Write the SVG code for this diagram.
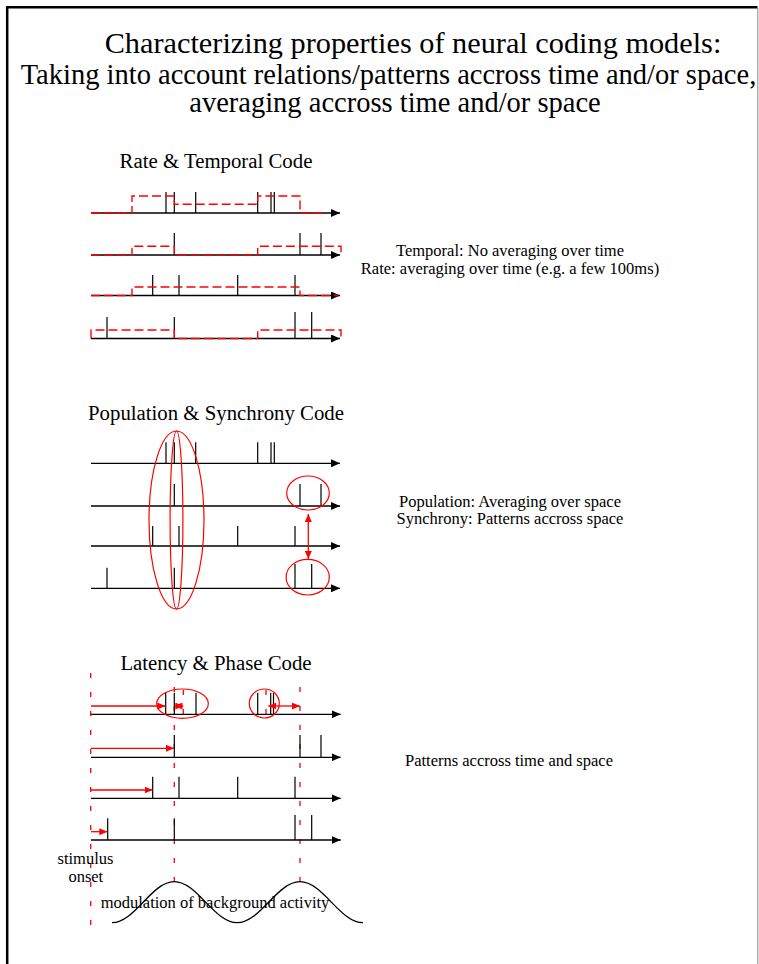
<svg xmlns="http://www.w3.org/2000/svg" width="759" height="964" viewBox="0 0 759 964">
<style>
text{font-family:"Liberation Serif","Times New Roman","DejaVu Serif",serif;fill:#000}
.t{font-size:28.5px;text-anchor:middle}
.h{font-size:20.8px;text-anchor:middle}
.s{font-size:16.5px;text-anchor:middle}
.ax{stroke:#000;stroke-width:1.3;fill:none;marker-end:url(#ah)}
.sp{stroke:#000;stroke-width:1.2;fill:none}
.rate{stroke:#f00;stroke-width:1.4;fill:none;stroke-dasharray:9 4}
.ell{stroke:#f00;stroke-width:1.2;fill:none}
.ra{stroke:#f00;stroke-width:1.3;fill:none;marker-end:url(#rh)}
.rd{stroke:#f00;stroke-width:1.3;fill:none;marker-end:url(#rh);marker-start:url(#rh)}
.vd{stroke:#f00;stroke-width:1.3;fill:none;stroke-dasharray:5 14}
</style>
<defs>
<marker id="ah" markerUnits="userSpaceOnUse" markerWidth="10" markerHeight="8" refX="9" refY="4" orient="auto"><path d="M0,0 L9,4 L0,8 z" fill="#000"/></marker>
<marker id="rh" markerUnits="userSpaceOnUse" markerWidth="9" markerHeight="7" refX="8" refY="3.5" orient="auto-start-reverse"><path d="M0,0 L8,3.5 L0,7 z" fill="#f00"/></marker>
</defs>
<rect width="759" height="964" fill="#fff"/>
<g id="frame">
<path d="M7.2,964 V7.2 H757.5" fill="none" stroke="#000" stroke-width="2.5"/>
<path d="M757.8,8 V964" fill="none" stroke="#888" stroke-width="1"/>
</g>
<g id="title">
<text class="t" x="413" y="53" style="font-size:30.3px">Characterizing properties of neural coding models:</text>
<text class="t" x="388.5" y="84">Taking into account relations/patterns accross time and/or space,</text>
<text class="t" x="395" y="112">averaging accross time and/or space</text>
</g>

<g id="rate-temporal">
<text class="h" x="216" y="168">Rate &amp; Temporal Code</text>
<g id="rt-axes">
<line class="ax" x1="91" y1="213" x2="340" y2="213"/>
<line class="ax" x1="91" y1="255" x2="340" y2="255"/>
<line class="ax" x1="91" y1="295.5" x2="340" y2="295.5"/>
<line class="ax" x1="91" y1="338.5" x2="340" y2="338.5"/>
</g>
<g id="rt-spikes">
<path class="sp" d="M166,192V213 M174.3,192V213 M195.7,192V213 M257.7,192V213 M271,192V213 M274.3,192V213"/>
<path class="sp" d="M174.3,233V255 M300,233V255 M321,233V255"/>
<path class="sp" d="M152.7,275V295.5 M179,275V295.5 M237.7,275V295.5 M295,275V295.5"/>
<path class="sp" d="M107,317V338.5 M174.3,317V338.5 M295,312V338.5 M311.7,312V338.5"/>
</g>
<g id="rt-rates">
<path class="rate" d="M91,213 H132 V196 H174.3 V204.3 H257.7 V196 H300 V213 H322"/>
<path class="rate" d="M91,255 H132 V246.3 H174.3 V255 H257.7 V246.3 H341 V255"/>
<path class="rate" d="M91,295.5 H132 V287 H300 V295.5 H338"/>
<path class="rate" d="M91,338.5 V330 H174.3 V338.5 H257.7 V330 H341 V338.5"/>
</g>
<text class="s" x="510" y="256">Temporal: No averaging over time</text>
<text class="s" x="510" y="273.5">Rate: averaging over time (e.g. a few 100ms)</text>
</g>

<g id="population-synchrony">
<text class="h" x="216" y="420">Population &amp; Synchrony Code</text>
<g id="ps-axes">
<line class="ax" x1="91" y1="463.3" x2="340" y2="463.3"/>
<line class="ax" x1="91" y1="506" x2="340" y2="506"/>
<line class="ax" x1="91" y1="546" x2="340" y2="546"/>
<line class="ax" x1="91" y1="588.3" x2="340" y2="588.3"/>
</g>
<g id="ps-spikes">
<path class="sp" d="M166,442.3V463.3 M174.3,442.3V463.3 M195.7,442.3V463.3 M257.7,442.3V463.3 M271,442.3V463.3 M274.3,442.3V463.3"/>
<path class="sp" d="M174.3,484V506 M300,484V506 M321,484V506"/>
<path class="sp" d="M152.7,526V546 M179,526V546 M237.7,526V546 M295,526V546"/>
<path class="sp" d="M107,567.7V588.3 M174.3,567.7V588.3 M295,564V588.3 M311.7,564V588.3"/>
</g>
<g id="ps-marks">
<ellipse class="ell" cx="176.5" cy="520" rx="27.5" ry="89"/>
<ellipse class="ell" cx="176.5" cy="520" rx="6.4" ry="89"/>
<ellipse class="ell" cx="308" cy="493" rx="21.3" ry="17"/>
<ellipse class="ell" cx="307.7" cy="577.2" rx="21.6" ry="17.8"/>
<line class="rd" x1="308.3" y1="514" x2="308.3" y2="559"/>
</g>
<text class="s" x="510" y="506.5">Population: Averaging over space</text>
<text class="s" x="510" y="524">Synchrony: Patterns accross space</text>
</g>

<g id="latency-phase">
<text class="h" x="216" y="670">Latency &amp; Phase Code</text>
<g id="lp-guides">
<line class="vd" x1="90.7" y1="673" x2="90.7" y2="926"/>
<line class="vd" x1="174.3" y1="687" x2="174.3" y2="882"/>
<line class="vd" x1="300" y1="687" x2="300" y2="882"/>
<line class="vd" x1="183.3" y1="690" x2="183.3" y2="714"/>
<line class="vd" x1="266" y1="690" x2="266" y2="714"/>
</g>
<g id="lp-axes">
<line class="ax" x1="91" y1="714.3" x2="340.7" y2="714.3"/>
<line class="ax" x1="91" y1="757.3" x2="340.7" y2="757.3"/>
<line class="ax" x1="91" y1="798.3" x2="340.7" y2="798.3"/>
<line class="ax" x1="91" y1="840" x2="340.7" y2="840"/>
</g>
<g id="lp-spikes">
<path class="sp" d="M165.7,692.7V714.3 M174.3,692.7V714.3 M196,692.7V714.3 M257.7,692.7V714.3 M270.7,692.7V714.3 M273.5,692.7V714.3"/>
<path class="sp" d="M174.3,735V757.3 M300,735V757.3 M321,735V757.3"/>
<path class="sp" d="M152.7,776.7V798.3 M179,776.7V798.3 M237.7,776.7V798.3 M295,776.7V798.3"/>
<path class="sp" d="M107.7,818.3V840 M174.3,818.3V840 M295,815V840 M311.7,815V840"/>
</g>
<g id="lp-marks">
<ellipse class="ell" cx="182.5" cy="703.7" rx="25.8" ry="14.7"/>
<ellipse class="ell" cx="264.3" cy="703.5" rx="15" ry="14.5"/>
<line class="ra" x1="91" y1="706" x2="165.3" y2="706"/>
<line class="rd" x1="174.5" y1="706" x2="183.3" y2="706"/>
<line class="rd" x1="268.3" y1="706" x2="300" y2="706"/>
<line class="ra" x1="91" y1="748.3" x2="174" y2="748.3"/>
<line class="ra" x1="91" y1="790" x2="152.5" y2="790"/>
<line class="ra" x1="91" y1="831.7" x2="107.3" y2="831.7"/>
</g>
<path id="modulation" d="M112,922.7 C135,922.7 151.3,881.7 174.3,881.7 C197.3,881.7 214,922.7 237.2,922.7 C260.2,922.7 277,881.7 300,881.7 C323,881.7 339.7,922.7 363,922.7" fill="none" stroke="#000" stroke-width="1.3"/>
<text class="s" x="85.5" y="864">stimulus</text>
<text class="s" x="85.8" y="881.5">onset</text>
<text class="s" x="215" y="908.3">modulation of background activity</text>
<text class="s" x="509" y="766">Patterns accross time and space</text>
</g>
</svg>
